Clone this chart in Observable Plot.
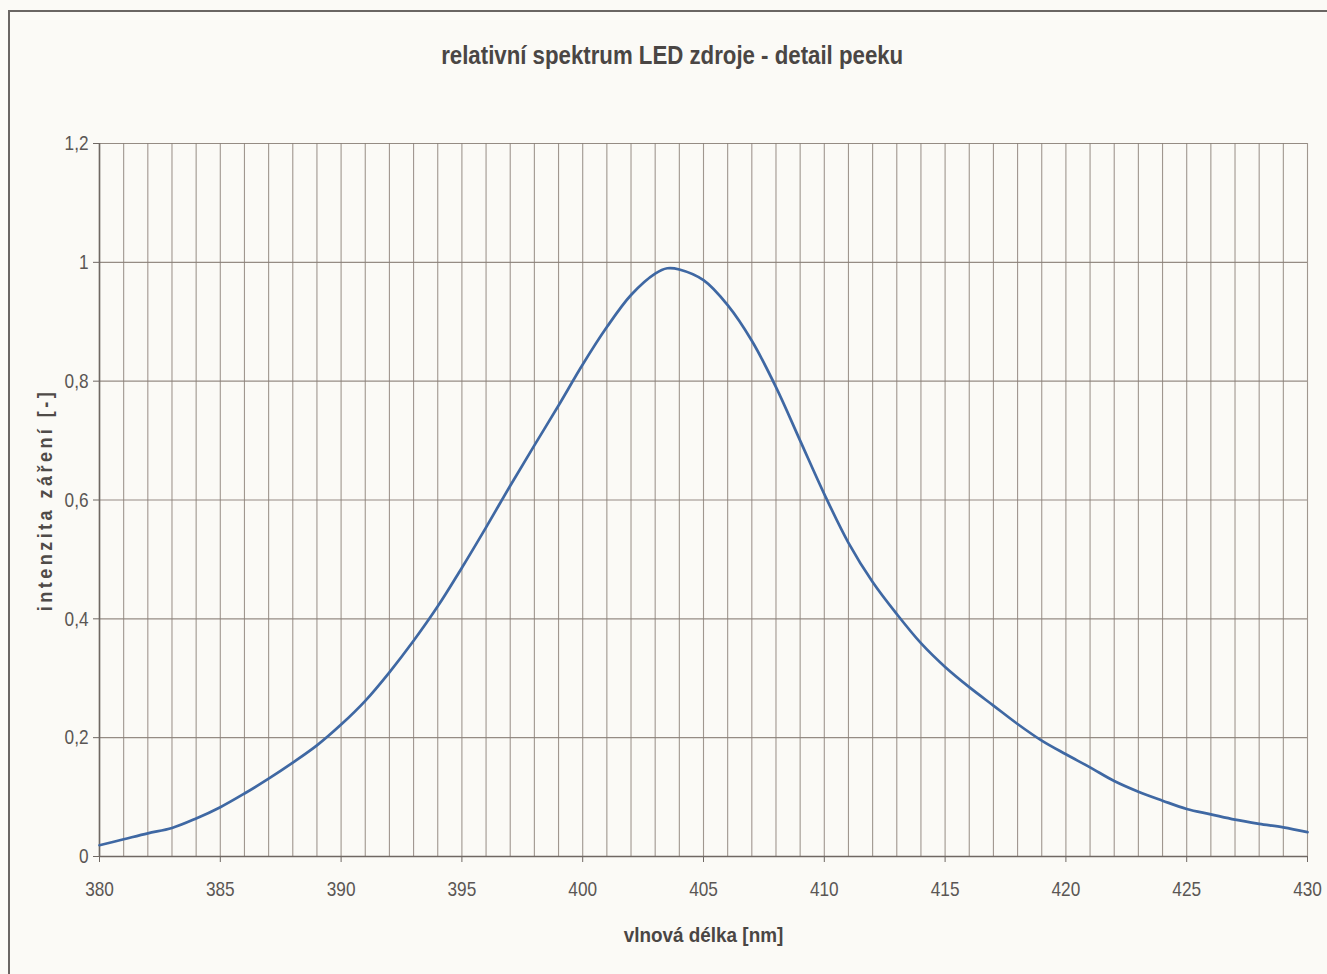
<!DOCTYPE html>
<html>
<head>
<meta charset="utf-8">
<script src="https://cdn.jsdelivr.net/npm/d3@7"></script>
<script src="https://cdn.jsdelivr.net/npm/@observablehq/plot@0.6"></script>
<style>
  html, body { margin: 0; padding: 0; background: #fbfaf6; }
  #wrap { position: relative; width: 1327px; height: 974px; overflow: hidden; background: #fbfaf6; }
  #frame { position: absolute; left: 8px; top: 10px; width: 1330px; height: 980px;
           border-top: 2px solid #6a6663; border-left: 2px solid #6a6663; box-sizing: border-box; }
  #title { position: relative; height: 110px; box-sizing: border-box; padding-top: 40px;
           font-family: "Liberation Sans", Arial, sans-serif;
           font-weight: bold; font-size: 26px; color: #4a4644; text-align: center; padding-left: 17px; }
  #title span { display: inline-block; transform: scaleX(0.855); transform-origin: center; white-space: nowrap; }
  #chart { position: relative; }
</style>
</head>
<body>
<div id="wrap">
  <div id="frame"></div>
  <div id="title"><span>relativní spektrum LED zdroje - detail peeku</span></div>
  <div id="chart"></div>
</div>
<script>
const wavelength = [380,381,382,383,384,385,386,387,388,389,390,391,392,393,394,395,396,397,398,399,400,401,402,403,403.5,404,405,406,407,408,409,410,411,412,413,414,415,416,417,418,419,420,421,422,423,424,425,426,427,428,429,430];
const intensity  = [0.019,0.029,0.039,0.048,0.064,0.083,0.106,0.131,0.158,0.187,0.222,0.262,0.310,0.363,0.421,0.486,0.554,0.624,0.692,0.759,0.828,0.891,0.945,0.981,0.990,0.988,0.970,0.928,0.868,0.790,0.700,0.610,0.528,0.462,0.408,0.359,0.319,0.285,0.254,0.223,0.195,0.172,0.150,0.127,0.109,0.094,0.080,0.071,0.062,0.055,0.049,0.041];
const xTicks = [380,385,390,395,400,405,410,415,420,425,430];
const xGrid = d3.range(380, 431, 1);
const yTicks = [0,0.2,0.4,0.6,0.8,1,1.2];
const xLabel = "vlnová délka [nm]";
const yLabel = "intenzita záření [-]";

const data = wavelength.map((w, i) => ({w, v: intensity[i]}));
const fmt = d => String(d).replace(".", ",");
const font = '"Liberation Sans", Arial, sans-serif';

const chart = Plot.plot({
  width: 1327,
  height: 864,
  marginTop: 33,
  marginBottom: 118,
  marginLeft: 99,
  marginRight: 20,
  style: { fontFamily: font, fontSize: "20px", color: "#5a5654", background: "transparent", overflow: "visible" },
  x: { domain: [380, 430] },
  y: { domain: [0, 1.2] },
  marks: [
    Plot.gridX(xGrid, { stroke: "#8f857c", strokeOpacity: 0.85, strokeWidth: 1.1 }),
    Plot.gridY(yTicks, { stroke: "#8a7f78", strokeOpacity: 0.9, strokeWidth: 1.1 }),
    Plot.axisX(xTicks, { tickSize: 6, tickPadding: 19, tickFormat: fmt, stroke: "#6f6863", label: null, fill: "#5a5654" }),
    Plot.axisY(yTicks, { tickSize: 6, tickPadding: 5, tickFormat: fmt, stroke: "#6f6863", label: null, fill: "#5a5654" }),
    Plot.ruleY([0], { stroke: "#6f6863", strokeWidth: 1.6 }),
    Plot.ruleX([380], { stroke: "#6f6863", strokeWidth: 1.6 }),
    Plot.line(data, { x: "w", y: "v", curve: "catmull-rom", stroke: "#3f68a3", strokeWidth: 2.7 }),
    Plot.text([xLabel], { text: d => d, frameAnchor: "bottom", lineAnchor: "middle", dy: 79, fontWeight: "bold", fill: "#4a4644" }),
    Plot.text([yLabel], { text: d => d, frameAnchor: "left", lineAnchor: "middle", textAnchor: "middle", rotate: -90, dx: -54, fontWeight: "bold", fill: "#4f4b48" })
  ]
});
document.getElementById("chart").appendChild(chart);

// narrow the glyphs horizontally (the reference uses a condensed face)
d3.select(chart).selectAll("text").each(function() {
  const t = this.textContent;
  let s = 0.82, fs = 21;
  if (t === xLabel) { s = 0.9; fs = 21; }
  if (t === yLabel) { s = 0.86; fs = 21; this.style.letterSpacing = "4px"; }
  this.style.fontSize = fs + "px";
  const tr = this.getAttribute("transform");
  if (tr) {
    this.setAttribute("transform", tr + ` scale(${s},1)`);
  } else {
    const x = +this.getAttribute("x") || 0, y = +this.getAttribute("y") || 0;
    this.removeAttribute("x"); this.removeAttribute("y");
    this.setAttribute("transform", `translate(${x},${y}) scale(${s},1)`);
  }
});
</script>
</body>
</html>
